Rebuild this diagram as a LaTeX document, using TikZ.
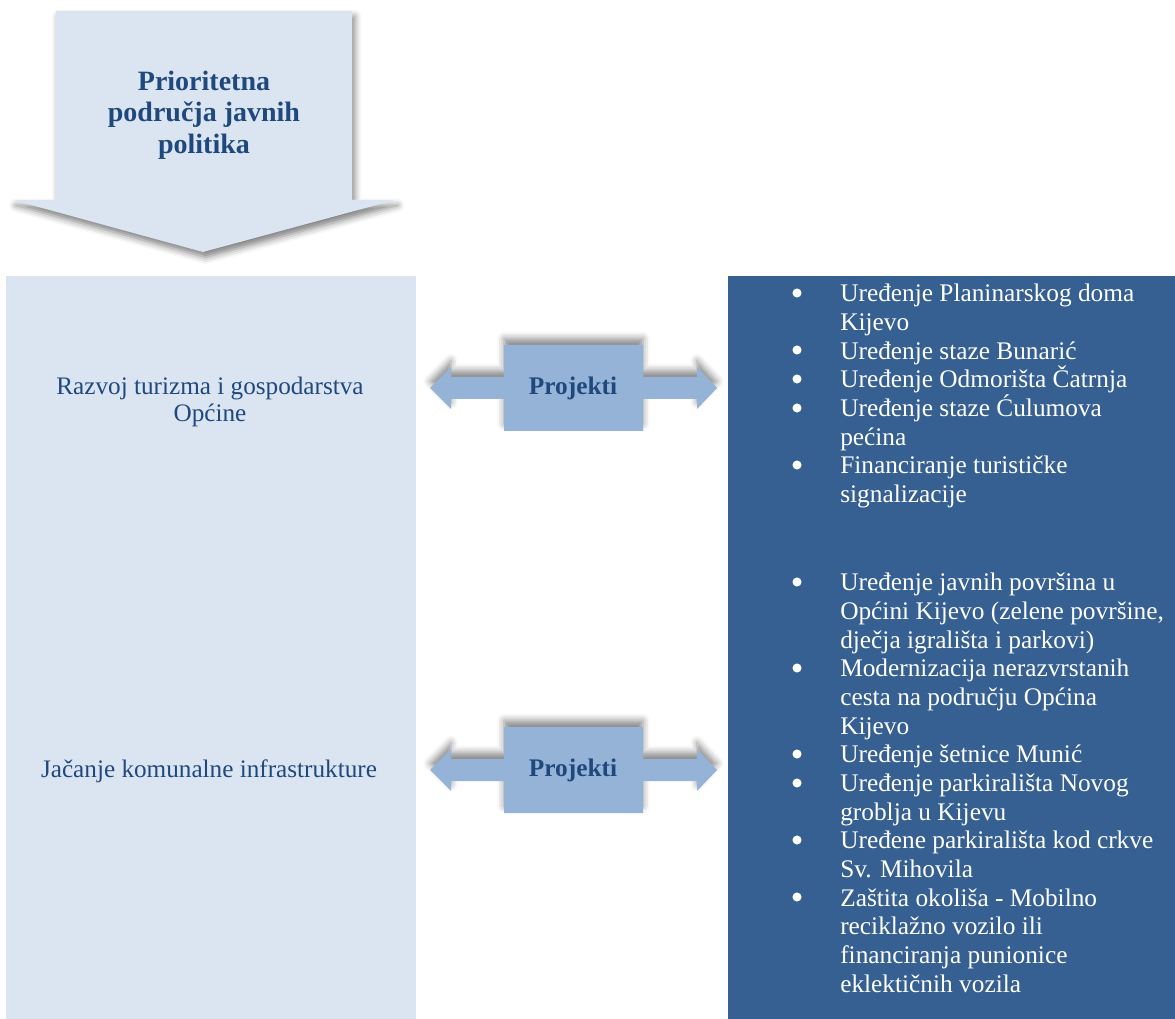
\documentclass[tikz,border=0pt]{standalone}
\usepackage{fontspec}
\setmainfont{Liberation Serif}
\usetikzlibrary{shadows.blur}
\definecolor{paleblue}{HTML}{DBE5F1}
\definecolor{deepblue}{HTML}{366092}
\definecolor{midblue}{HTML}{95B3D7}
\definecolor{inkblue}{HTML}{1F497D}
\def\projarrow#1#2{%
	\begin{scope}[shift={(0,#2)}]
		\draw[projshape] (430,0) -- (451,-21) -- (451,-11) -- (504,-11) -- (504,-43) -- (643,-43) -- (643,-11)
			-- (697,-11) -- (697,-21) -- (717,0) -- (697,21) -- (697,11) -- (643,11) -- (643,43)
			-- (504,43) -- (504,11) -- (451,11) -- (451,21) -- cycle;
		\node[projtext] (#1) at (573,0) {Projekti};
	\end{scope}}

\begin{document}
\begin{tikzpicture}[x=0.75pt, y=-0.75pt,
		projshape/.style={fill=midblue, draw=none, blur shadow={shadow xshift=0pt, shadow yshift=5pt, shadow blur radius=5pt, shadow opacity=45}},
		projtext/.style={text=inkblue, font=\bfseries\fontsize{19}{22}\selectfont},
		goaltext/.style={text=inkblue, align=center, font=\fontsize{18.9}{20.3}\selectfont},
		listtext/.style={text=white, align=left, anchor=north west, inner sep=0pt, font=\fontsize{19}{21.5}\selectfont},
		dot/.style={fill=white, draw=none}]
	%%%%% START %%%%%
	\useasboundingbox (0,0) rectangle (1175,1019);
	
	% big arrow on top
	\draw[fill=paleblue, draw=none, blur shadow={shadow xshift=2pt, shadow yshift=-4pt, shadow blur radius=5pt, shadow opacity=50}]
		(56,11) -- (352,11) -- (352,200) -- (395,200) -- (203,252) -- (13,200) -- (56,200) -- cycle;
	\node[text=inkblue, align=center, font=\bfseries\fontsize{21}{23.6}\selectfont] (title) at (204,115)
		{Prioritetna\\područja javnih\\politika};
	
	% panels
	\fill[paleblue] (6,276) rectangle (416,1019);
	\fill[deepblue] (728,276) rectangle (1175,1019);
	
	\node[goaltext] (goal1) at (210,402) {Razvoj turizma i gospodarstva\\Općine};
	\node[goaltext] (goal2) at (209,771) {Jačanje komunalne infrastrukture};
	
	\projarrow{proj1}{388}
	\projarrow{proj2}{770}
	
	\node[listtext] (list1) at (840,284) {Uređenje Planinarskog doma\\Kijevo\\
		Uređenje staze Bunarić\\
		Uređenje Odmorišta Čatrnja\\
		Uređenje staze Ćulumova\\pećina\\
		Financiranje turističke\\signalizacije};
	
	\node[listtext] (list2) at (840,573) {Uređenje javnih površina u\\Općini Kijevo (zelene površine,\\dječja igrališta i parkovi)\\
		Modernizacija nerazvrstanih\\cesta na području Općina\\Kijevo\\
		Uređenje šetnice Munić\\
		Uređenje parkirališta Novog\\groblja u Kijevu\\
		Uređene parkirališta kod crkve\\Sv. Mihovila\\
		Zaštita okoliša - Mobilno\\reciklažno vozilo ili\\financiranja punionice\\eklektičnih vozila};
	
	% bullets
	\foreach \y in {293,350,379,408,465,582,668,754,783,840,897}
		\fill[dot] (797,\y) circle[radius=3.4pt];
	
	%%%%% END %%%%%
\end{tikzpicture}
\end{document}
